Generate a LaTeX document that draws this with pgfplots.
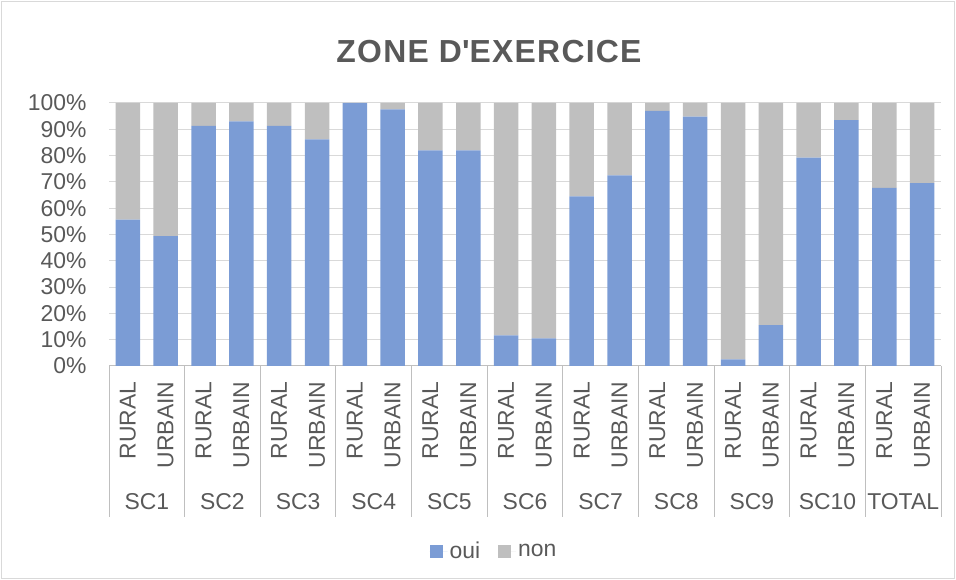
\documentclass[border=0pt]{standalone}
\usepackage{pgfplots}
\usepackage{pgfplotstable}
\pgfplotsset{compat=1.18}
\usepackage{fontspec}
\setmainfont{Liberation Sans}

\definecolor{txt}{HTML}{595959}
\definecolor{oui}{HTML}{7B9CD5}
\definecolor{non}{HTML}{BFBFBF}
\definecolor{gridc}{HTML}{D9D9D9}
\definecolor{axc}{HTML}{BFBFBF}

\tikzset{grp/.style={anchor=base, text=txt, font=\fontsize{23}{27}\selectfont}}

% share of "oui" / "non" answers per zone, in percent
\pgfplotstableread{
x   oui   non
0   55.7  44.3
1   49.4  50.6
2   91.3   8.7
3   93.0   7.0
4   91.3   8.7
5   86.2  13.8
6  100.0   0.0
7   97.6   2.4
8   82.0  18.0
9   82.0  18.0
10  11.6  88.4
11  10.5  89.5
12  64.5  35.5
13  72.5  27.5
14  97.0   3.0
15  94.8   5.2
16   2.5  97.5
17  15.5  84.5
18  79.2  20.8
19  93.5   6.5
20  67.7  32.3
21  69.5  30.5
}\zonedata

\begin{document}
\begin{tikzpicture}
\useasboundingbox (0,0) rectangle (956bp,580bp);
\draw[gridc, line width=1bp] (1.5bp,1.5bp) rectangle (954.5bp,578.5bp);

\node[anchor=base, text=txt] at (489bp,517bp)
  {\fontsize{32}{36}\selectfont\bfseries\addfontfeatures{LetterSpace=4}ZONE D\textquotesingle EXERCICE};

\begin{axis}[
  at={(109bp,214bp)}, anchor=south west,
  width=832bp, height=263bp, scale only axis,
  ybar stacked, bar width=24.5bp,
  xmin=-0.5, xmax=21.5, ymin=0, ymax=100,
  clip=false,
  axis x line*=bottom, axis y line*=left,
  x axis line style={axc, line width=1bp, -},
  y axis line style={draw=none},
  major tick length=0pt,
  ymajorgrids, grid style={gridc, line width=1bp},
  ytick={0,10,...,100},
  yticklabel={\pgfmathprintnumber{\tick}\%},
  /pgf/number format/assume math mode=true,
  yticklabel style={text=txt, font=\fontsize{23}{27}\selectfont, xshift=-19bp},
  xtick={0,...,21},
  xticklabels={RURAL,URBAIN,RURAL,URBAIN,RURAL,URBAIN,RURAL,URBAIN,RURAL,URBAIN,
               RURAL,URBAIN,RURAL,URBAIN,RURAL,URBAIN,RURAL,URBAIN,RURAL,URBAIN,
               RURAL,URBAIN},
  xticklabel style={anchor=east, rotate=90, xshift=-12bp, text=txt,
                    font=\fontsize{23}{27}\selectfont},
  legend style={at={(0.4627,-0.705)}, anchor=center, draw=none, fill=none,
    legend columns=-1, text=txt, font=\fontsize{23}{27}\selectfont,
    /tikz/every even column/.append style={column sep=16bp}},
  legend image code/.code={\fill[#1] (0bp,-6.5bp) rectangle (13bp,6.5bp);
                           \path (0bp,0bp) -- (18bp,0bp);},
]
\addplot[fill=oui, draw=none] table[x=x, y=oui] {\zonedata};
\addplot[fill=non, draw=none] table[x=x, y=non] {\zonedata};
\legend{oui, non}

% group separators below the axis
\draw[axc, line width=1bp] (axis cs:-0.5,0) -- (axis cs:-0.5,-57.4);
\draw[axc, line width=1bp] (axis cs:1.5,0) -- (axis cs:1.5,-57.4);
\draw[axc, line width=1bp] (axis cs:3.5,0) -- (axis cs:3.5,-57.4);
\draw[axc, line width=1bp] (axis cs:5.5,0) -- (axis cs:5.5,-57.4);
\draw[axc, line width=1bp] (axis cs:7.5,0) -- (axis cs:7.5,-57.4);
\draw[axc, line width=1bp] (axis cs:9.5,0) -- (axis cs:9.5,-57.4);
\draw[axc, line width=1bp] (axis cs:11.5,0) -- (axis cs:11.5,-57.4);
\draw[axc, line width=1bp] (axis cs:13.5,0) -- (axis cs:13.5,-57.4);
\draw[axc, line width=1bp] (axis cs:15.5,0) -- (axis cs:15.5,-57.4);
\draw[axc, line width=1bp] (axis cs:17.5,0) -- (axis cs:17.5,-57.4);
\draw[axc, line width=1bp] (axis cs:19.5,0) -- (axis cs:19.5,-57.4);
\draw[axc, line width=1bp] (axis cs:21.5,0) -- (axis cs:21.5,-57.4);

% group names
\node[grp] at (axis cs:0.5,-54.75) {SC1};
\node[grp] at (axis cs:2.5,-54.75) {SC2};
\node[grp] at (axis cs:4.5,-54.75) {SC3};
\node[grp] at (axis cs:6.5,-54.75) {SC4};
\node[grp] at (axis cs:8.5,-54.75) {SC5};
\node[grp] at (axis cs:10.5,-54.75) {SC6};
\node[grp] at (axis cs:12.5,-54.75) {SC7};
\node[grp] at (axis cs:14.5,-54.75) {SC8};
\node[grp] at (axis cs:16.5,-54.75) {SC9};
\node[grp] at (axis cs:18.5,-54.75) {SC10};
\node[grp] at (axis cs:20.5,-54.75) {TOTAL};
\end{axis}
\end{tikzpicture}
\end{document}
